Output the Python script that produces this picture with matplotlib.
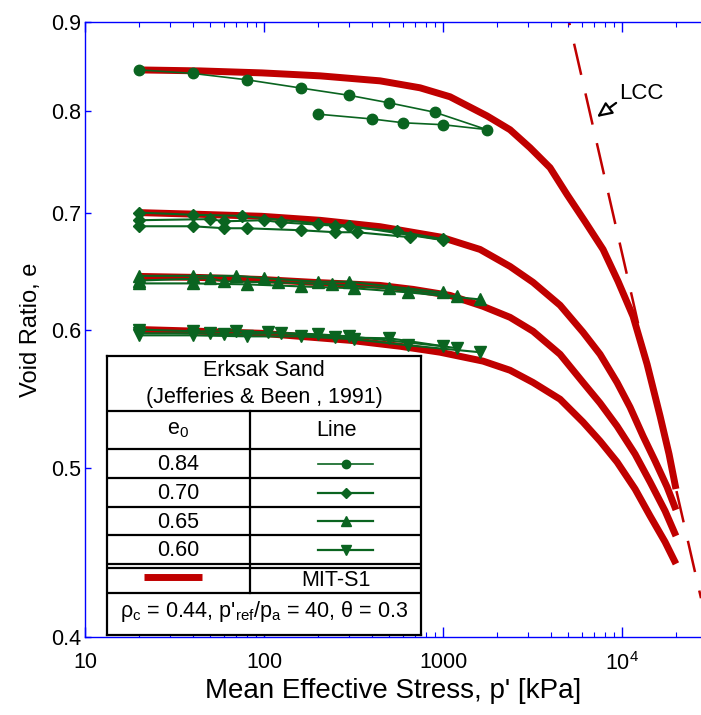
import matplotlib
matplotlib.use('Agg')
import matplotlib.pyplot as plt
from matplotlib.ticker import LogLocator, NullLocator, NullFormatter

plt.rcParams['font.family'] = ['Liberation Sans', 'DejaVu Sans']
plt.rcParams['mathtext.fontset'] = 'custom'
plt.rcParams['mathtext.rm'] = 'Liberation Sans'
plt.rcParams['mathtext.it'] = 'Liberation Sans:italic'

# MIT-S1 model curves (p' in kPa, void ratio e)
mit_084_p = [20, 44, 97, 206, 445, 744, 1094, 1760, 2368, 3063, 3960, 4930, 6213,
             7833, 9500, 11520, 13800, 16310, 18300, 20000]
mit_084_e = [0.8449, 0.8438, 0.8416, 0.8383, 0.8328, 0.8252, 0.8155, 0.7952, 0.7808,
             0.7625, 0.7427, 0.7168, 0.6917, 0.6668, 0.6393, 0.6105, 0.5731, 0.5352,
             0.5091, 0.4862]
mit_070_p = [20, 44, 97, 206, 445, 975, 1610, 2368, 3183, 4505, 6055, 7537, 9378,
             11080, 13100, 15290, 17840, 20000]
mit_070_e = [0.700, 0.6984, 0.6966, 0.6929, 0.6871, 0.6777, 0.6668, 0.6520, 0.6385,
             0.6195, 0.5978, 0.5807, 0.5595, 0.5416, 0.5213, 0.5045, 0.4875, 0.473]
mit_065_p = [20, 44, 97, 188, 445, 680, 1094, 1673, 2368, 3183, 4505, 6055, 7537,
             9378, 11820, 14340, 17390, 20000]
mit_065_e = [0.6435, 0.6426, 0.6409, 0.6385, 0.6359, 0.6326, 0.6276, 0.6186, 0.6097,
             0.5986, 0.5807, 0.5595, 0.5445, 0.5282, 0.5091, 0.4907, 0.4723, 0.457]
mit_060_p = [20, 44, 97, 159, 302, 575, 962, 1673, 2368, 3183, 4505, 6055, 7537,
             9378, 11820, 14340, 17390, 20000]
mit_060_e = [0.600, 0.5986, 0.597, 0.5946, 0.5915, 0.5869, 0.5823, 0.5755, 0.5686,
             0.5595, 0.5473, 0.531, 0.5179, 0.5038, 0.4862, 0.4692, 0.4534, 0.4405]

# limiting compression curve
lcc_p = [5060, 27600]
lcc_e = [0.900, 0.421]

# Erksak sand test data (Jefferies & Been, 1991)
circ_p = [20, 40, 80, 160, 300, 500, 900, 1750, 1000, 600, 400, 200]
circ_e = [0.845, 0.841, 0.834, 0.825, 0.817, 0.809, 0.799, 0.781, 0.786, 0.788, 0.792, 0.797]

dia1_p = [20, 40, 75, 200, 300, 1000]
dia1_e = [0.700, 0.698, 0.697, 0.690, 0.688, 0.675]
dia2_p = [20, 50, 60, 100, 125, 250, 550, 1000]
dia2_e = [0.693, 0.694, 0.692, 0.693, 0.691, 0.688, 0.683, 0.676]
dia3_p = [20, 40, 60, 80, 160, 250, 330, 650]
dia3_e = [0.6875, 0.6875, 0.6857, 0.6857, 0.6839, 0.6821, 0.6821, 0.6777]

tri1_p = [20, 40, 70, 100, 200, 300, 1000]
tri1_e = [0.644, 0.644, 0.644, 0.642, 0.639, 0.639, 0.630]
tri2_p = [20, 50, 60, 120, 240, 500, 1200]
tri2_e = [0.640, 0.642, 0.6393, 0.6385, 0.6368, 0.6335, 0.6268]
tri3_p = [20, 40, 80, 160, 320, 640, 1600]
tri3_e = [0.6376, 0.6376, 0.6368, 0.6351, 0.6335, 0.6301, 0.6243]

inv1_p = [20, 40, 70, 105, 200, 300, 1000]
inv1_e = [0.600, 0.5986, 0.5986, 0.5978, 0.5962, 0.5946, 0.5869]
inv2_p = [20, 50, 60, 125, 250, 500, 1200]
inv2_e = [0.597, 0.597, 0.5962, 0.597, 0.5938, 0.5931, 0.5853]
inv3_p = [20, 40, 80, 160, 320, 640, 1600]
inv3_e = [0.5954, 0.5954, 0.5946, 0.5946, 0.5923, 0.5876, 0.5823]

yticks = [0.4, 0.5, 0.6, 0.7, 0.8, 0.9]
ytick_labels = ['0.4', '0.5', '0.6', '0.7', '0.8', '0.9']
xticks = [10, 100, 1000, 10000]
xtick_labels = ['10', '100', '1000', r'$\mathregular{10^4}$']

e0_labels = ['0.84', '0.70', '0.65', '0.60']
e0_markers = ['o', 'D', '^', 'v']

RED = '#c00000'
GREEN = '#0a6420'
BLUE = '#0000ff'

fig = plt.figure(figsize=(7.01, 7.15), dpi=100)
ax = fig.add_axes([85 / 701, 1 - 637 / 715, 616 / 701, 615 / 715])
ax.set_xscale('log')
ax.set_yscale('log')
ax.set_xlim(10, 27600)
ax.set_ylim(0.4, 0.9)

# model curves
for p, e in [(mit_084_p, mit_084_e), (mit_070_p, mit_070_e),
             (mit_065_p, mit_065_e), (mit_060_p, mit_060_e)]:
    ax.plot(p, e, color=RED, lw=5, solid_capstyle='butt', solid_joinstyle='round', zorder=2)
ax.plot(lcc_p, lcc_e, color=RED, lw=1.8, linestyle=(11.5, (12.8, 7.6)), zorder=2)

# test data
ax.plot(circ_p, circ_e, color=GREEN, lw=1.2, marker='o', ms=7.5, zorder=3)
for p, e in [(dia1_p, dia1_e), (dia2_p, dia2_e), (dia3_p, dia3_e)]:
    ax.plot(p, e, color=GREEN, lw=1.5, marker='D', ms=6, zorder=3)
for p, e in [(tri1_p, tri1_e), (tri2_p, tri2_e), (tri3_p, tri3_e)]:
    ax.plot(p, e, color=GREEN, lw=1.5, marker='^', ms=8, zorder=3)
for p, e in [(inv1_p, inv1_e), (inv2_p, inv2_e), (inv3_p, inv3_e)]:
    ax.plot(p, e, color=GREEN, lw=1.5, marker='v', ms=8, zorder=3)

ax.annotate('LCC', xy=(7245, 0.794), xytext=(9600, 0.819), fontsize=16,
            ha='left', va='center',
            arrowprops=dict(arrowstyle='-|>,head_length=0.75,head_width=0.35',
                            mutation_scale=12, relpos=(0, 0.15),
                            fc='white', ec='black', lw=1.6, shrinkA=0, shrinkB=0))

# axes style
ax.spines['right'].set_visible(False)
for s in ['left', 'bottom', 'top']:
    ax.spines[s].set_color(BLUE)
    ax.spines[s].set_linewidth(1.0)

ax.set_xticks(xticks)
ax.set_xticklabels(xtick_labels)
ax.xaxis.set_minor_locator(LogLocator(base=10, subs=range(2, 10), numticks=20))
ax.xaxis.set_minor_formatter(NullFormatter())
ax.set_yticks(yticks)
ax.set_yticklabels(ytick_labels)
ax.yaxis.set_minor_locator(NullLocator())
ax.tick_params(axis='x', which='major', direction='in', length=7, width=1,
               color=BLUE, top=True, labelsize=15.5, pad=11)
ax.tick_params(axis='x', which='minor', direction='in', length=3.8, width=0.8,
               color=BLUE, top=True)
ax.tick_params(axis='y', which='major', direction='in', length=4, width=1,
               color=BLUE, right=False, labelsize=15.5, pad=3)

ax.set_xlabel("Mean Effective Stress, p' [kPa]", fontsize=20, labelpad=2)
ax.set_ylabel('Void Ratio, e', fontsize=17, labelpad=6)

# legend table (coordinates in pixels of the table box)
tab = fig.add_axes([107 / 701, 1 - 635 / 715, 314 / 701, 279 / 715])
tab.set_xlim(107, 421)
tab.set_ylim(635, 356)
tab.set_xticks([])
tab.set_yticks([])
tab.set_facecolor('white')
for s in tab.spines.values():
    s.set_color('black')
    s.set_linewidth(1.6)

for yy in [411, 449, 478, 507, 535, 564, 568, 593]:
    tab.plot([107, 421], [yy, yy], color='black', lw=1.6)
tab.plot([250, 250], [411, 593], color='black', lw=1.6)

fs = 15.5
tab.text(264, 371, 'Erksak Sand', ha='center', va='center', fontsize=fs)
tab.text(264, 397, '(Jefferies & Been , 1991)', ha='center', va='center', fontsize=fs)
tab.text(178, 430, r'e$_\mathrm{0}$', ha='center', va='center', fontsize=fs)
tab.text(336, 430, 'Line', ha='center', va='center', fontsize=fs)

row_y = [463.5, 492.5, 521, 549.5]
for lab, mk, yy in zip(e0_labels, e0_markers, row_y):
    tab.text(178, yy + 1, lab, ha='center', va='center', fontsize=fs)
    msz = {'o': 6, 'D': 5, '^': 7, 'v': 7}[mk]
    tab.plot([318, 373], [yy, yy], color=GREEN, lw=1.2 if mk == 'o' else 1.6)
    tab.plot([345.5], [yy], color=GREEN, marker=mk, ms=msz)

tab.plot([144, 202], [577, 577], color=RED, lw=5, solid_capstyle='butt')
tab.text(336, 581, 'MIT-S1', ha='center', va='center', fontsize=fs)
tab.text(264, 612, "ρ$_\\mathrm{c}$ = 0.44, p'$_\\mathrm{ref}$/p$_\\mathrm{a}$ = 40, θ = 0.3",
         ha='center', va='center', fontsize=fs)

fig.savefig('out.png', dpi=100)
